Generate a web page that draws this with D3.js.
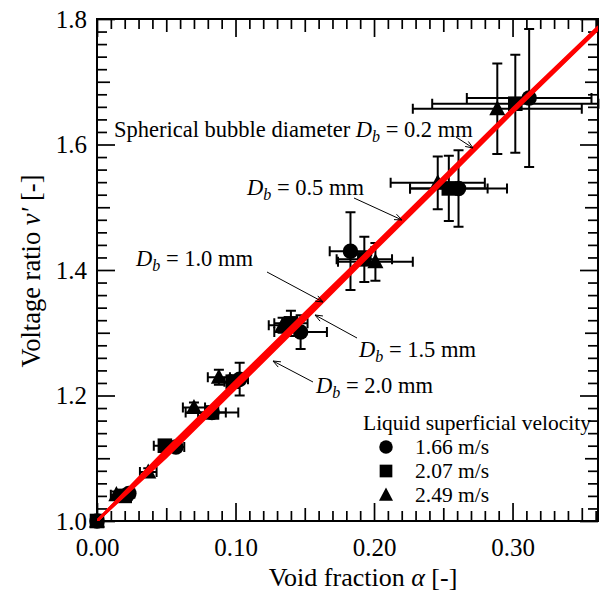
<!DOCTYPE html>
<html><head><meta charset="utf-8">
<script src="https://cdn.jsdelivr.net/npm/d3@7/dist/d3.min.js"></script>
<style>
html,body{margin:0;padding:0;background:#fff;}
svg text{font-family:"Liberation Serif","Times New Roman",serif;fill:#000;}
</style></head>
<body><svg id="c" width="600" height="591"></svg>
<script>
// ---- data ----
const modelAlpha = [0, 0.05, 0.10, 0.15, 0.20, 0.25, 0.30, 0.362];
const modelDb02 = [1.000, 1.114, 1.223, 1.331, 1.439, 1.548, 1.657, 1.788];
const modelDb05 = [1.000, 1.111, 1.220, 1.328, 1.437, 1.546, 1.655, 1.787];
const modelDb10 = [1.000, 1.108, 1.217, 1.326, 1.435, 1.544, 1.654, 1.786];
const modelDb15 = [1.000, 1.105, 1.214, 1.323, 1.433, 1.542, 1.652, 1.785];
const modelDb20 = [1.000, 1.102, 1.211, 1.320, 1.431, 1.540, 1.651, 1.784];

const circAlpha = [0.000, 0.023, 0.057, 0.083, 0.103, 0.147, 0.183, 0.261, 0.312];
const circV     = [1.000, 1.044, 1.118, 1.173, 1.226, 1.301, 1.430, 1.530, 1.674];
const circXerr  = [0, 0.004, 0.006, 0.010, 0.006, 0.019, 0.015, 0.035, 0.045];
const circYerr  = [0, 0.004, 0.006, 0.008, 0.026, 0.027, 0.062, 0.061, 0.110];

const sqAlpha = [0.000, 0.020, 0.049, 0.083, 0.098, 0.140, 0.193, 0.254, 0.302];
const sqV     = [1.000, 1.040, 1.120, 1.173, 1.222, 1.315, 1.417, 1.530, 1.665];
const sqXerr  = [0, 0.005, 0.008, 0.019, 0.006, 0.012, 0.020, 0.028, 0.060];
const sqYerr  = [0, 0.004, 0.006, 0.008, 0.010, 0.020, 0.036, 0.052, 0.078];

const triAlpha = [0.000, 0.014, 0.037, 0.070, 0.088, 0.134, 0.201, 0.246, 0.289];
const triV     = [1.000, 1.042, 1.078, 1.181, 1.229, 1.312, 1.413, 1.539, 1.657];
const triXerr  = [0, 0.004, 0.006, 0.008, 0.008, 0.010, 0.027, 0.034, 0.061];
const triYerr  = [0, 0.005, 0.006, 0.008, 0.012, 0.012, 0.030, 0.042, 0.072];

const xMajor = [0, 0.10, 0.20, 0.30];
const yMajor = [1.0, 1.2, 1.4, 1.6, 1.8];
const legendTitle = "Liquid superficial velocity";
const legendLabels = ["1.66 m/s", "2.07 m/s", "2.49 m/s"];

// ---- layout ----
const L = 97, R = 598, T = 19, B = 521;
const x = d3.scaleLinear().domain([0, 0.3617]).range([L, R]);
const y = d3.scaleLinear().domain([1.0, 1.8]).range([B, T]);
const svg = d3.select("#c");

svg.append("defs").append("clipPath").attr("id","clip")
  .append("rect").attr("x",L).attr("y",T).attr("width",R-L).attr("height",B-T);

// ---- ticks (inward, three levels) ----
const r3 = v => Math.round(v*1000)/1000;
const xMinor = d3.range(0, 37).map(i => r3(i*0.01)).filter(v => Math.round(v*100)%5 !== 0);
const xMed = d3.range(0, 8).map(i => r3(i*0.05)).filter(v => Math.round(v*100)%10 !== 0);
const yMinor = d3.range(0, 41).map(i => r3(1 + i*0.02)).filter(v => Math.round(v*100)%10 !== 0);
const yMed = [1.1, 1.3, 1.5, 1.7];

function styleAxis(g){ g.select(".domain").remove(); g.selectAll("line").attr("stroke","#000").attr("stroke-width",1.7); }

[[xMinor,10],[xMed,13],[xMajor,18]].forEach(([vals,len]) => {
  svg.append("g").attr("transform",`translate(0,${B})`)
    .call(d3.axisBottom(x).tickValues(vals).tickSize(-len).tickFormat(""))
    .call(styleAxis);
  svg.append("g").attr("transform",`translate(0,${T})`)
    .call(d3.axisTop(x).tickValues(vals).tickSize(-len).tickFormat(""))
    .call(styleAxis);
});
[[yMinor,10],[yMed,13],[yMajor,18]].forEach(([vals,len]) => {
  svg.append("g").attr("transform",`translate(${L},0)`)
    .call(d3.axisLeft(y).tickValues(vals).tickSize(-len).tickFormat(""))
    .call(styleAxis);
  svg.append("g").attr("transform",`translate(${R},0)`)
    .call(d3.axisRight(y).tickValues(vals).tickSize(-len).tickFormat(""))
    .call(styleAxis);
});

// tick labels
const xl = svg.append("g").attr("transform",`translate(0,${B})`)
  .call(d3.axisBottom(x).tickValues(xMajor).tickSize(0).tickPadding(17).tickFormat(d3.format(".2f")));
xl.select(".domain").remove();
xl.selectAll("text").attr("font-size",25).attr("font-family","Liberation Serif, serif");
const yl = svg.append("g").attr("transform",`translate(${L},0)`)
  .call(d3.axisLeft(y).tickValues(yMajor).tickSize(0).tickPadding(10).tickFormat(d3.format(".1f")));
yl.select(".domain").remove();
yl.selectAll("text").attr("font-size",25).attr("font-family","Liberation Serif, serif");

// frame
svg.append("rect").attr("x",L).attr("y",T).attr("width",R-L).attr("height",B-T)
  .attr("fill","none").attr("stroke","#000").attr("stroke-width",2);

// ---- data series ----
function series(ax, vs, xe, ye){ return ax.map((a,i)=>({a, v:vs[i], xe:xe[i], ye:ye[i]})); }
const sets = [
  {key:"circle", data: series(circAlpha, circV, circXerr, circYerr)},
  {key:"square", data: series(sqAlpha, sqV, sqXerr, sqYerr)},
  {key:"tri", data: series(triAlpha, triV, triXerr, triYerr)}
];
const cap = 5;
const eb = svg.append("g").attr("stroke","#000").attr("stroke-width",2).attr("fill","none");
sets.forEach(s => s.data.forEach(d => {
  if (d.xe > 0) {
    const x0 = x(d.a - d.xe), x1 = x(d.a + d.xe), yy = y(d.v);
    eb.append("path").attr("d", `M${x0},${yy}H${x1}M${x0},${yy-cap}V${yy+cap}M${x1},${yy-cap}V${yy+cap}`);
  }
  if (d.ye > 0) {
    const y0 = y(d.v - d.ye), y1 = y(d.v + d.ye), xx = x(d.a);
    eb.append("path").attr("d", `M${xx},${y0}V${y1}M${xx-cap},${y0}H${xx+cap}M${xx-cap},${y1}H${xx+cap}`);
  }
}));

function marker(g, key, cx, cy, s){
  if (key === "circle") g.append("circle").attr("cx",cx).attr("cy",cy).attr("r",s*0.5);
  else if (key === "square") g.append("rect").attr("x",cx-s*0.47).attr("y",cy-s*0.47).attr("width",s*0.94).attr("height",s*0.94);
  else g.append("path").attr("d",`M${cx},${cy-s*0.55}L${cx+s*0.52},${cy+s*0.42}L${cx-s*0.52},${cy+s*0.42}Z`);
}
const mk = svg.append("g").attr("fill","#000");
sets.forEach(s => s.data.forEach(d => marker(mk, s.key, x(d.a), y(d.v), 15.5)));

// ---- model lines ----
const models = [modelDb02, modelDb05, modelDb10, modelDb15, modelDb20];
const line = d3.line().x((d,i)=>x(modelAlpha[i])).y(d=>y(d));
svg.append("g").attr("clip-path","url(#clip)").selectAll("path").data(models).join("path")
  .attr("d", line).attr("fill","none").attr("stroke","#ff0000").attr("stroke-width",2.6);

// ---- annotations ----
function richText(xp, yp, parts, size){
  const t = svg.append("text").attr("x",xp).attr("y",yp).attr("font-size",size);
  parts.forEach(p => {
    const ts = t.append("tspan").text(p.t);
    if (p.i) ts.attr("font-style","italic");
    if (p.dy) ts.attr("dy",p.dy);
    if (p.fs) ts.attr("font-size",p.fs);
  });
  return t;
}
function dbParts(prefix, val){
  return [{t:prefix},{t:"D",i:true},{t:"b",i:true,dy:5,fs:16},{t:" = " + val + " mm",dy:-5}];
}
const annFs = 22.5;
richText(114, 137, dbParts("Spherical bubble diameter ", "0.2"), annFs);
richText(247, 195, dbParts("", "0.5"), annFs);
richText(136, 266, dbParts("", "1.0"), annFs);
richText(359, 357, dbParts("", "1.5"), annFs);
richText(316, 393, dbParts("", "2.0"), annFs);

function arrow(x0,y0,x1,y1){
  const g = svg.append("g").attr("stroke","#000").attr("stroke-width",1).attr("fill","none");
  g.append("line").attr("x1",x0).attr("y1",y0).attr("x2",x1).attr("y2",y1);
  const ang = Math.atan2(y1-y0, x1-x0), h = 8, w = 0.38;
  g.append("path").attr("d",
    `M${x1-h*Math.cos(ang-w)},${y1-h*Math.sin(ang-w)}L${x1},${y1}L${x1-h*Math.cos(ang+w)},${y1-h*Math.sin(ang+w)}`);
}
arrow(456,137,473,148);
arrow(354,198,402,220);
arrow(267,272,323,302);
arrow(357,338,315,315);
arrow(313,382,273,361);

// ---- legend ----
svg.append("text").attr("x",363).attr("y",430).attr("font-size",21.5).text(legendTitle);
const lg = svg.append("g").attr("fill","#000");
["circle","square","tri"].forEach((k,i) => {
  const yy = 447 + i*24;
  marker(lg, k, 386, yy, 13.5);
  svg.append("text").attr("x",415).attr("y",yy+7).attr("font-size",21.5).text(legendLabels[i]);
});

// ---- axis titles ----
const xt = svg.append("text").attr("x",363).attr("y",586).attr("font-size",26).attr("text-anchor","middle");
xt.append("tspan").text("Void fraction ");
xt.append("tspan").attr("font-style","italic").text("α");
xt.append("tspan").text(" [-]");
const yt = svg.append("text").attr("transform","translate(40,271) rotate(-90)").attr("font-size",26.5).attr("text-anchor","middle");
yt.append("tspan").text("Voltage ratio ");
yt.append("tspan").attr("font-style","italic").text("v′");
yt.append("tspan").text(" [-]");
</script></body></html>
